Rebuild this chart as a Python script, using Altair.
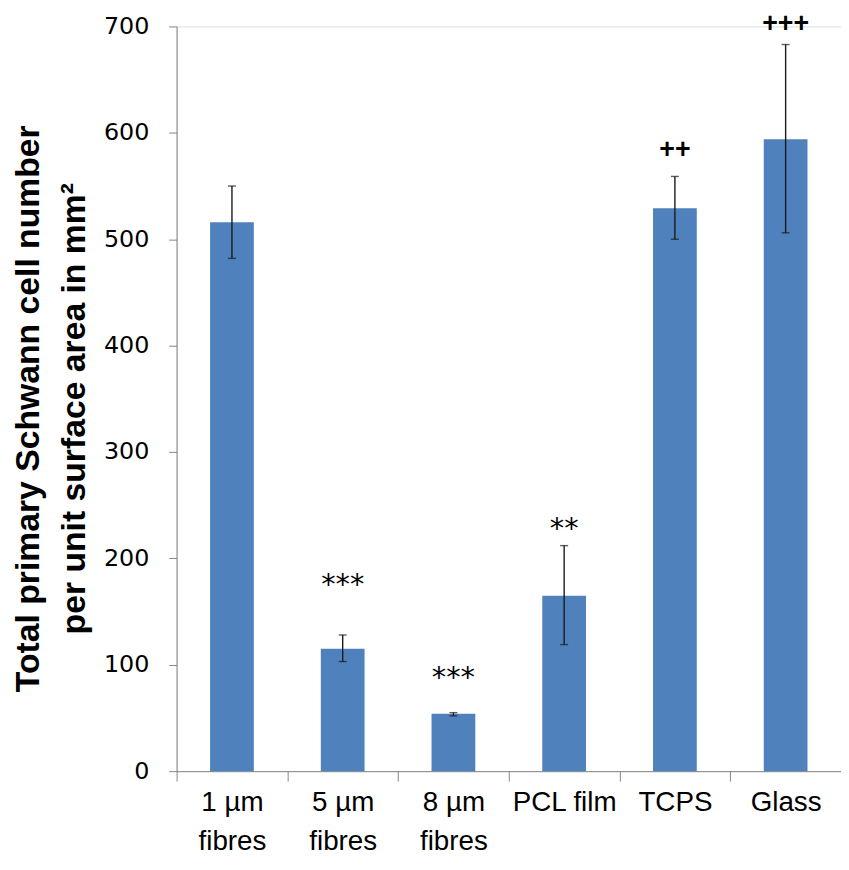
import altair as alt
import pandas as pd

categories = ["1 µm\nfibres", "5 µm\nfibres", "8 µm\nfibres", "PCL film", "TCPS", "Glass"]
means = [516, 115, 54, 165, 529, 594]
err_low = [482, 103, 52, 119, 500, 506]
err_high = [550, 128, 55, 212, 559, 683]
marks = ["", "***", "***", "**", "++", "+++"]
mark_y = [None, 167, 79, 219, 576, 695]
y_ticks = [0, 100, 200, 300, 400, 500, 600, 700]

df = pd.DataFrame({
    "cat": categories,
    "mean": means,
    "lo": err_low,
    "hi": err_high,
})
ann = pd.DataFrame({"cat": categories, "label": marks, "ly": mark_y}).dropna()
ann_star = ann[ann["label"].str.contains(r"\*")]
ann_plus = ann[ann["label"].str.contains(r"\+")]

x_enc = alt.X(
    "cat:N",
    sort=categories,
    scale=alt.Scale(paddingInner=0, paddingOuter=0),
    axis=alt.Axis(
        title=None,
        labelAngle=0,
        labelExpr="split(datum.label, '\\n')",
        labelFont="Liberation Sans",
        labelFontSize=28,
        labelLineHeight=39,
        labelColor="black",
        labelPadding=8,
        tickBand="extent",
        tickSize=10,
        tickColor="#868686",
        domainColor="#868686",
        labelBaseline="top",
    ),
)

y_scale = alt.Scale(domain=[0, 700], nice=False)
y_enc = alt.Y(
    "mean:Q",
    scale=y_scale,
    axis=alt.Axis(
        values=y_ticks,
        grid=False,
        title=["Total primary Schwann cell number", "per unit surface area in mm²"],
        titleFont="Liberation Sans",
        titleFontSize=34,
        titleFontWeight="bold",
        titleColor="black",
        titleLineHeight=46,
        titleAngle=-90,
        titleAlign="center",
        titleBaseline="alphabetic",
        titleX=-139,
        titleY=385,
        labelFont="DejaVu Sans",
        labelFontSize=24,
        labelColor="black",
        labelPadding=20,
        tickSize=8,
        tickColor="#868686",
        domainColor="#868686",
    ),
)

bars = alt.Chart(df).mark_bar(color="#4F81BD", width=alt.RelativeBandSize(0.395)).encode(
    x=x_enc, y=y_enc
)

rules = alt.Chart(df).mark_rule(color="#1a1a1a", strokeWidth=1.4).encode(
    x=alt.X("cat:N", sort=categories),
    y=alt.Y("lo:Q", scale=y_scale),
    y2="hi:Q",
)
caps_hi = alt.Chart(df).mark_tick(color="#1a1a1a", size=8, thickness=1.4).encode(
    x=alt.X("cat:N", sort=categories), y=alt.Y("hi:Q", scale=y_scale)
)
caps_lo = alt.Chart(df).mark_tick(color="#1a1a1a", size=8, thickness=1.4).encode(
    x=alt.X("cat:N", sort=categories), y=alt.Y("lo:Q", scale=y_scale)
)

stars = alt.Chart(ann_star).mark_text(
    font="DejaVu Sans", fontSize=29, color="black", baseline="alphabetic", align="center"
).encode(x=alt.X("cat:N", sort=categories), y=alt.Y("ly:Q", scale=y_scale), text="label:N")

pluses = alt.Chart(ann_plus).mark_text(
    font="Liberation Sans", fontSize=27, fontWeight="bold", color="black",
    baseline="alphabetic", align="center"
).encode(x=alt.X("cat:N", sort=categories), y=alt.Y("ly:Q", scale=y_scale), text="label:N")

chart = (
    alt.layer(bars, rules, caps_hi, caps_lo, stars, pluses)
    .properties(
        width=670,
        height=751,
        autosize=alt.AutoSizeParams(type="none"),
        padding={"left": 170, "top": 15, "right": 0, "bottom": 88},
    )
    .configure_view(stroke=None)
    .configure(background="white")
)

chart.save("out.html", embed_options={"renderer": "svg", "actions": False})
